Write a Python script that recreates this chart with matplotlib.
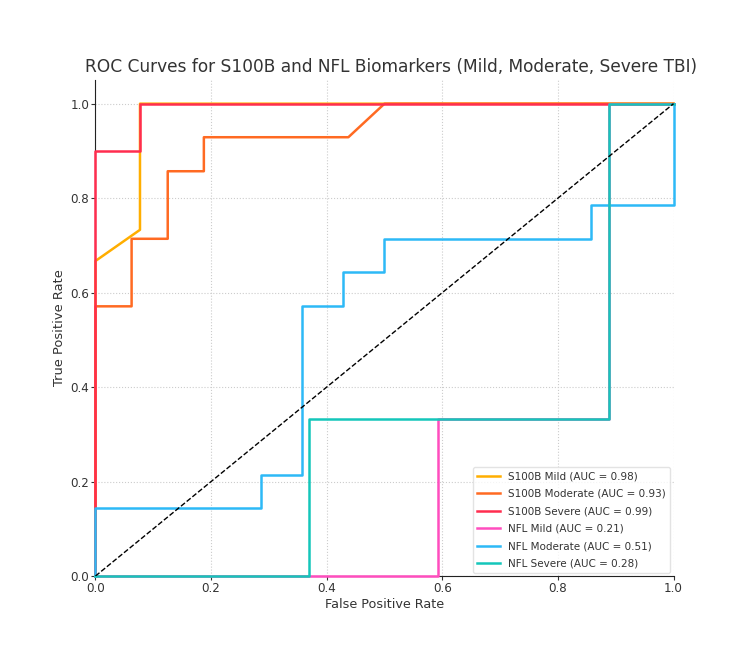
import matplotlib
matplotlib.use("Agg")
import matplotlib.pyplot as plt

# ROC points
s100b_mild_fpr = [0.0, 0.0, 0.077, 0.077, 1.0]
s100b_mild_tpr = [0.0, 0.667, 0.733, 1.0, 1.0]

s100b_mod_fpr = [0.0, 0.0, 0.0625, 0.0625, 0.125, 0.125, 0.1875, 0.1875, 0.4375, 0.5, 1.0]
s100b_mod_tpr = [0.0, 0.571, 0.571, 0.714, 0.714, 0.857, 0.857, 0.929, 0.929, 1.0, 1.0]

s100b_sev_fpr = [0.0, 0.0, 0.077, 0.077, 1.0]
s100b_sev_tpr = [0.0, 0.9, 0.9, 1.0, 1.0]

nfl_mild_fpr = [0.0, 0.593, 0.593, 0.889, 0.889, 1.0]
nfl_mild_tpr = [0.0, 0.0, 0.333, 0.333, 1.0, 1.0]

nfl_mod_fpr = [0.0, 0.0, 0.286, 0.286, 0.357, 0.357, 0.429, 0.429, 0.5, 0.5, 0.857, 0.857, 1.0, 1.0]
nfl_mod_tpr = [0.0, 0.143, 0.143, 0.214, 0.214, 0.571, 0.571, 0.643, 0.643, 0.714, 0.714, 0.786, 0.786, 1.0]

nfl_sev_fpr = [0.0, 0.370, 0.370, 0.889, 0.889, 1.0]
nfl_sev_tpr = [0.0, 0.0, 0.333, 0.333, 1.0, 1.0]

labels = ["S100B Mild", "S100B Moderate", "S100B Severe", "NFL Mild", "NFL Moderate", "NFL Severe"]
aucs = [0.98, 0.93, 0.99, 0.21, 0.51, 0.28]
colors = ["#FFAE00", "#FF6A22", "#FF2D4F", "#FF4DBE", "#2DB9F7", "#14C6BA"]

curves = [
    (s100b_mild_fpr, s100b_mild_tpr),
    (s100b_mod_fpr, s100b_mod_tpr),
    (s100b_sev_fpr, s100b_sev_tpr),
    (nfl_mild_fpr, nfl_mild_tpr),
    (nfl_mod_fpr, nfl_mod_tpr),
    (nfl_sev_fpr, nfl_sev_tpr),
]

text_color = "#333333"

fig = plt.figure(figsize=(7.5, 6.5), dpi=100)
ax = fig.add_axes([0.1273, 0.1138, 0.7707, 0.763])

for (fpr, tpr), lab, auc, col in zip(curves, labels, aucs, colors):
    ax.plot(fpr, tpr, color=col, lw=1.8, zorder=3, clip_on=False,
            label='{0} (AUC = {1:.2f})'.format(lab, auc))
ax.plot([0, 1], [0, 1], 'k--', lw=1, zorder=3)

# axis setting
ax.set_xlim(0, 1)
ax.set_ylim(0, 1.05)
ax.set_xticks([0, 0.2, 0.4, 0.6, 0.8, 1.0])
ax.set_yticks([0, 0.2, 0.4, 0.6, 0.8, 1.0])
ax.grid(True, linestyle=':', color='#cccccc', lw=0.8)
ax.set_axisbelow(True)
ax.spines['top'].set_visible(False)
ax.spines['right'].set_visible(False)
ax.spines['left'].set_color('#222222')
ax.spines['bottom'].set_color('#222222')
ax.tick_params(labelsize=8.6, colors=text_color, length=2.8, pad=1.8)
ax.set_xlabel('False Positive Rate', fontsize=9.2, color=text_color, labelpad=2)
ax.set_ylabel('True Positive Rate', fontsize=9.4, color=text_color, labelpad=3)
ax.set_title('ROC Curves for S100B and NFL Biomarkers (Mild, Moderate, Severe TBI)',
             fontsize=12.25, color=text_color, pad=6, x=0.511)

leg = ax.legend(loc='lower right', fontsize=7.5, borderaxespad=0.3, handlelength=2.2,
                labelspacing=0.72)
leg.set_zorder(5)
leg.get_frame().set_edgecolor('#dddddd')
for t in leg.get_texts():
    t.set_color(text_color)

fig.savefig('out.png', dpi=100)
